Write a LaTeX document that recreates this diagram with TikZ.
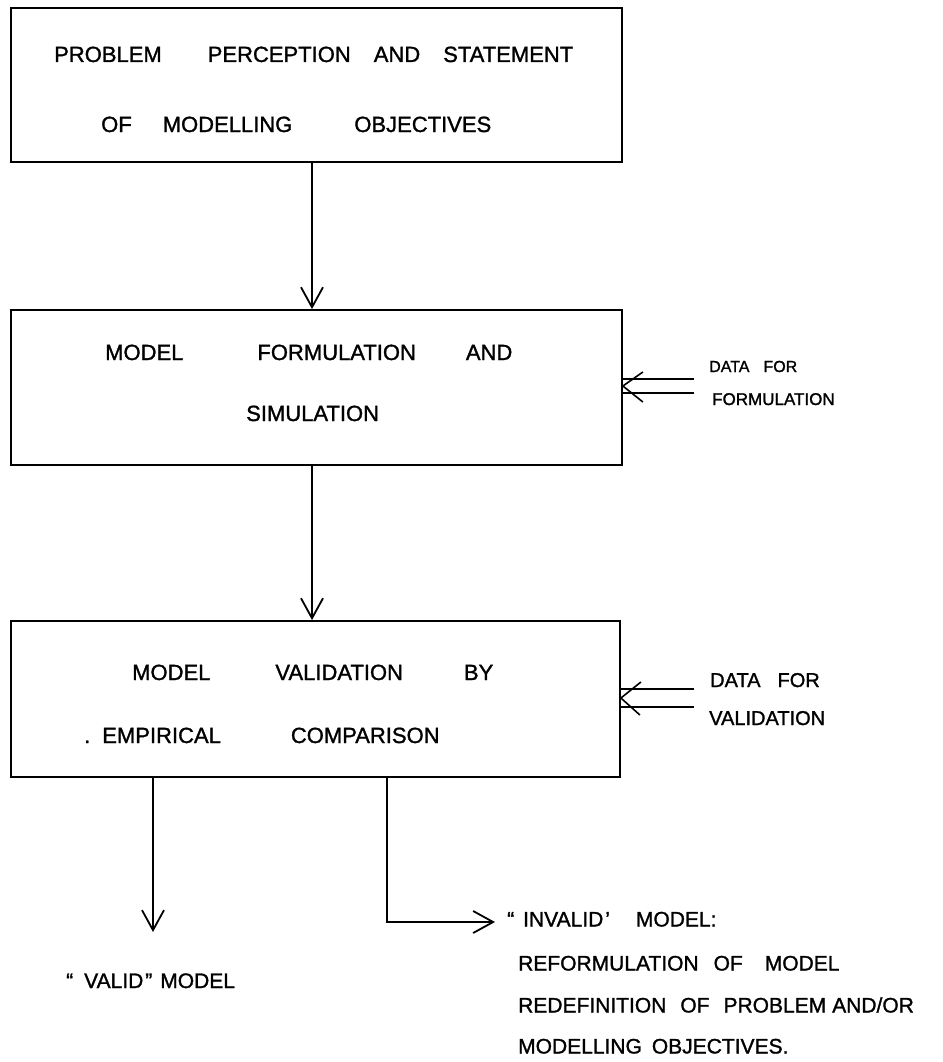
\documentclass[tikz,border=0pt]{standalone}
\usepackage{fontspec}
\setmainfont{Liberation Sans}
\usetikzlibrary{arrows.meta}

% a pen-like stroke for the lettering
\newcommand{\penface}{\addfontfeature{FakeBold=1.3}}

\begin{document}
\begin{tikzpicture}[x=1pt,y=-1pt,
  box/.style={draw, line width=1.8pt, inner sep=0pt},
  txt/.style={anchor=base west, inner sep=0pt, font=\fontsize{22}{26}\selectfont\penface},
  note/.style={anchor=base west, inner sep=0pt, font=\fontsize{21}{25}\selectfont\penface},
  flow/.style={line width=1.8pt, -{Straight Barb[length=20pt,width=22pt]}},
  feed/.style={line width=1.6pt},
]
% page frame
\useasboundingbox[fill=white] (0,0) rectangle (942,1062);

% the three stages
\node[box, minimum width=611pt, minimum height=154pt] (perc) at (316.5,85) {};
\node[box, minimum width=611pt, minimum height=155pt] (form) at (316.5,387.5) {};
\node[box, minimum width=609pt, minimum height=156pt] (vali) at (315.5,699) {};

% stage texts
\node[txt] (perc1) at (54,62) {PROBLEM\hspace{46pt}PERCEPTION\hspace{23pt}AND\hspace{23pt}STATEMENT};
\node[txt] (perc2) at (101,132) {OF\hspace{31pt}MODELLING\hspace{62pt}OBJECTIVES};
\node[txt] (form1) at (105,360) {MODEL\hspace{74pt}FORMULATION\hspace{50pt}AND};
\node[txt] (form2) at (246,421) {SIMULATION};
\node[txt] (vali1) at (132,680) {MODEL\hspace{65pt}VALIDATION\hspace{61pt}BY};
\node[txt] (vali2) at (84,743) {.\hspace{12pt}EMPIRICAL\hspace{70pt}COMPARISON};

% data inputs
\node[anchor=base west, inner sep=0pt, font=\fontsize{16}{19}\selectfont\penface] (dff1) at (709,372) {DATA\hspace{14pt}FOR};
\node[anchor=base west, inner sep=0pt, font=\fontsize{17}{20}\selectfont\penface] (dff2) at (712,405) {FORMULATION};
\node[anchor=base west, inner sep=0pt, font=\fontsize{20}{24}\selectfont\penface] (dfv1) at (710,687) {DATA\hspace{17pt}FOR};
\node[anchor=base west, inner sep=0pt, font=\fontsize{20}{24}\selectfont\penface] (dfv2) at (709,725) {VALIDATION};

% outcomes
\node[note] (valid) at (66,988) {“\hspace{11pt}VALID\hspace{2pt}”\hspace{8pt}MODEL};
\node[note] (inv1) at (507,926.5) {“\hspace{9pt}INVALID\hspace{2pt}’\hspace{26pt}MODEL:};
\node[note] (inv2) at (518,970.5) {REFORMULATION\hspace{15pt}OF\hspace{22pt}MODEL};
\node[note] (inv3) at (518,1012.5) {REDEFINITION\hspace{14pt}OF\hspace{14pt}PROBLEM\hspace{6pt}AND/OR};
\node[note] (inv4) at (518,1053.5) {MODELLING\hspace{10pt}OBJECTIVES.};

% main flow
\draw[flow] ([xshift=-4.5pt]perc.south) -- ([xshift=-4.5pt]form.north);
\draw[flow] ([xshift=-4.5pt]form.south) -- ([xshift=-3.5pt]vali.north);

% double feed into formulation
\coordinate (fu) at (694,379);
\coordinate (fl) at (694,393);
\coordinate (fm) at (694,386);
\draw[feed] (fu) -- (form.east |- fu);
\draw[feed] (fl) -- (form.east |- fl);
\path (form.east |- fm) coordinate (ft);
\draw[feed] (ft) +(20,-14) -- (ft) -- +(20,16);

% double feed into validation
\coordinate (vu) at (694,689);
\coordinate (vl) at (694,707);
\coordinate (vm) at (694,698);
\draw[feed] (vu) -- (vali.east |- vu);
\draw[feed] (vl) -- (vali.east |- vl);
\path (vali.east |- vm) coordinate (vt);
\draw[feed] (vt) +(20,-16) -- (vt) -- +(19,17);

% outcomes of validation
\coordinate (validtip) at (153,932);
\coordinate (invtip) at (495,922);
\draw[flow] ([xshift=-162.5pt]vali.south) -- (validtip);
\draw[flow] ([xshift=71.5pt]vali.south) |- (invtip);
\end{tikzpicture}
\end{document}
